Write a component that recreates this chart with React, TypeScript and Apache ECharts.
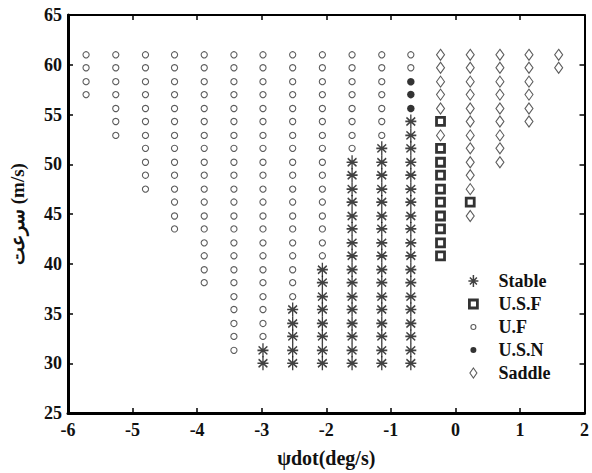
import React, { useEffect, useRef } from "react";
import * as echarts from "echarts";

// Column positions (ψdot, deg/s)
const X_COLUMNS = [-5.72, -5.26, -4.8, -4.35, -3.89, -3.43, -2.98, -2.52, -2.06, -1.6, -1.14, -0.69, -0.23, 0.23, 0.69, 1.14, 1.6];
// Row positions (speed, m/s), top to bottom
const Y_ROWS = [61.0, 59.7, 58.3, 57.0, 55.6, 54.3, 52.9, 51.6, 50.2, 48.9, 47.5, 46.2, 44.8, 43.5, 42.1, 40.8, 39.4, 38.1, 36.7, 35.4, 34.0, 32.7, 31.3, 30.0];
// For each column: runs of [class code, number of rows], starting at the top row
// S = Stable, Q = U.S.F, F = U.F, N = U.S.N, D = Saddle
const COLUMN_RUNS: [string, number][][] = [
  [["F", 4]],
  [["F", 7]],
  [["F", 11]],
  [["F", 14]],
  [["F", 18]],
  [["F", 23]],
  [["F", 22], ["S", 2]],
  [["F", 19], ["S", 5]],
  [["F", 16], ["S", 8]],
  [["F", 8], ["S", 16]],
  [["F", 7], ["S", 17]],
  [["F", 2], ["N", 3], ["S", 19]],
  [["D", 5], ["Q", 1], ["D", 1], ["Q", 9]],
  [["D", 11], ["Q", 1], ["D", 1]],
  [["D", 9]],
  [["D", 6]],
  [["D", 2]],
];
const CLASS_NAMES: Record<string, string> = { S: "Stable", Q: "U.S.F", F: "U.F", N: "U.S.N", D: "Saddle" };
const LEGEND_ORDER = ["Stable", "U.S.F", "U.F", "U.S.N", "Saddle"];
const X_TICKS = { min: -6, max: 2, interval: 1 };
const Y_TICKS = { min: 25, max: 65, interval: 5 };

const FONT = "Liberation Serif";
const STAR = "path://M5,0 L5,14 M0,7 L10,7 M1,3 L9,11 M9,3 L1,11";

export default function App() {
  const ref = useRef<HTMLDivElement>(null);
  useEffect(() => {
    if (!ref.current) return;
    const chart = echarts.init(ref.current, null, { renderer: "svg" });

    const points: Record<string, number[][]> = {};
    LEGEND_ORDER.forEach((n) => (points[n] = []));
    COLUMN_RUNS.forEach((runs, c) => {
      let r = 0;
      runs.forEach(([code, count]) => {
        for (let k = 0; k < count; k++) {
          points[CLASS_NAMES[code]].push([X_COLUMNS[c], Y_ROWS[r]]);
          r++;
        }
      });
    });

    const styles: Record<string, any> = {
      Stable: { symbol: STAR, symbolSize: [11, 14], itemStyle: { color: "#111", borderColor: "#111", borderWidth: 1.5 } },
      "U.S.F": { symbol: "rect", symbolSize: 8, itemStyle: { color: "#fff", borderColor: "#000", borderWidth: 2.8 } },
      "U.F": { symbol: "circle", symbolSize: 6.2, itemStyle: { color: "#fff", borderColor: "#333", borderWidth: 1.1 } },
      "U.S.N": { symbol: "circle", symbolSize: 7.5, itemStyle: { color: "#000", borderColor: "#000", borderWidth: 0 } },
      Saddle: { symbol: "diamond", symbolSize: [8, 11], itemStyle: { color: "#fff", borderColor: "#333", borderWidth: 1.1 } },
    };
    const pad = "M0,0 M32,14 ";
    const legendIcons: Record<string, string> = {
      Stable: "path://" + pad + "M12,1 L12,13 M7,7 L17,7 M8.5,3.5 L15.5,10.5 M15.5,3.5 L8.5,10.5",
      "U.S.F": "path://" + pad + "M8,3 L16,3 L16,11 L8,11 Z",
      "U.F": "path://" + pad + "M9.5,7 A2.5,2.5 0 1,1 14.5,7 A2.5,2.5 0 1,1 9.5,7 Z",
      "U.S.N": "path://" + pad + "M9,7 A3,3 0 1,1 15,7 A3,3 0 1,1 9,7 Z",
      Saddle: "path://" + pad + "M12,2 L15.5,7 L12,12 L8.5,7 Z",
    };

    const axisCommon = {
      type: "value" as const,
      splitLine: { show: false },
      axisTick: { show: true, inside: true, length: 5, lineStyle: { color: "#000", width: 1.5 } },
    };

    chart.setOption({
      animation: false,
      backgroundColor: "#fff",
      grid: { left: 59, right: 4, top: 15, bottom: 46, containLabel: false },
      legend: {
        orient: "vertical",
        left: 460,
        top: 272,
        padding: 0,
        itemWidth: 32,
        itemHeight: 14,
        itemGap: 5,
        selectedMode: false,
        textStyle: { fontFamily: FONT, fontSize: 18, fontWeight: "bold", color: "#111" },
        data: LEGEND_ORDER.map((n) => ({
          name: n,
          icon: legendIcons[n],
          itemStyle: { ...styles[n].itemStyle },
        })),
      },
      xAxis: [
        {
          ...axisCommon,
          ...X_TICKS,
          position: "bottom",
          axisLine: { onZero: false, lineStyle: { color: "#000", width: 3 } },
          axisLabel: { color: "#111", fontFamily: FONT, fontSize: 18, fontWeight: "bold", margin: 8 },
          name: "ψdot(deg/s)",
          nameLocation: "middle",
          nameGap: 35,
          nameTextStyle: { color: "#111", fontFamily: FONT, fontSize: 20, fontWeight: "bold" },
        },
        {
          ...axisCommon,
          ...X_TICKS,
          position: "top",
          axisLine: { onZero: false, lineStyle: { color: "#000", width: 2 } },
          axisLabel: { show: false },
        },
      ],
      yAxis: [
        {
          ...axisCommon,
          ...Y_TICKS,
          position: "left",
          axisLine: { onZero: false, lineStyle: { color: "#000", width: 3 } },
          axisLabel: { color: "#111", fontFamily: FONT, fontSize: 18, fontWeight: "bold", margin: 6 },
          name: "سرعت (m/s)",
          nameLocation: "middle",
          nameRotate: 90,
          nameGap: 41,
          nameTextStyle: { color: "#111", fontFamily: FONT, fontSize: 19, fontWeight: "bold" },
        },
        {
          ...axisCommon,
          ...Y_TICKS,
          position: "right",
          axisLine: { onZero: false, lineStyle: { color: "#000", width: 2 } },
          axisLabel: { show: false },
        },
      ],
      series: LEGEND_ORDER.map((n) => ({
        name: n,
        type: "scatter",
        xAxisIndex: 0,
        yAxisIndex: 0,
        data: points[n],
        symbol: styles[n].symbol,
        symbolSize: styles[n].symbolSize,
        itemStyle: styles[n].itemStyle,
        emphasis: { disabled: true },
      })),
    });
    return () => chart.dispose();
  }, []);
  return <div ref={ref} style={{ position: "fixed", left: 0, top: 0, width: 592, height: 473 }} />;
}
